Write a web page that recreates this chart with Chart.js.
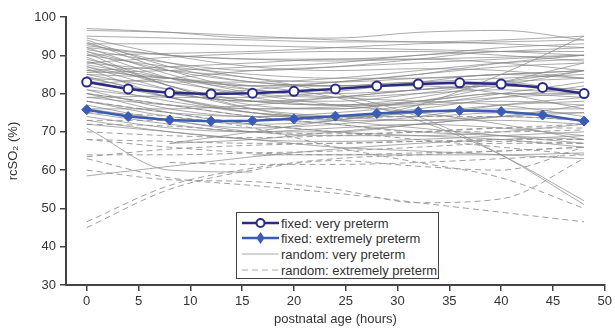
<!DOCTYPE html>
<html>
<head>
<meta charset="utf-8">
<script src="https://cdn.jsdelivr.net/npm/chart.js@4/dist/chart.umd.min.js"></script>
<style>
  body { margin: 0; background: #fff; }
  #wrap { position: relative; width: 615px; height: 329px; }
  #legend {
    position: absolute; left: 236px; top: 212px; width: 201px; height: 65px;
    border: 1.5px solid #444; background: #fff;
    font-family: 'Liberation Sans', Arial, sans-serif; font-size: 13px; color: #333;
  }
  .row { position: absolute; left: 5px; height: 16px; display: flex; align-items: center; white-space: nowrap; }
  .row svg { margin-right: 1px; }
</style>
</head>
<body>
<div id="wrap">
  <canvas id="c" width="615" height="329"></canvas>
  <div id="legend">
    <div class="row" style="top:2px">
      <svg width="38" height="16"><line x1="0" y1="8" x2="37" y2="8" stroke="#2b2a85" stroke-width="2.5"/><circle cx="18.5" cy="8" r="4" fill="#fff" stroke="#2b2a85" stroke-width="2"/></svg>fixed: very preterm</div>
    <div class="row" style="top:17px">
      <svg width="38" height="16"><line x1="0" y1="8" x2="37" y2="8" stroke="#3a5cb4" stroke-width="2.5"/><polygon points="18.5,2 22.5,8 18.5,14 14.5,8" fill="#3a5cb4"/></svg>fixed: extremely preterm</div>
    <div class="row" style="top:33px">
      <svg width="38" height="16"><line x1="0" y1="8" x2="37" y2="8" stroke="#aaa" stroke-width="1"/></svg>random: very preterm</div>
    <div class="row" style="top:49px">
      <svg width="38" height="16"><line x1="0" y1="8" x2="37" y2="8" stroke="#aaa" stroke-width="1" stroke-dasharray="6,4"/></svg>random: extremely preterm</div>
  </div>
</div>
<script>
// ── Data ──
const xTickValues = [0, 5, 10, 15, 20, 25, 30, 35, 40, 45, 50];
const fixedHours = [0, 4, 8, 12, 16, 20, 24, 28, 32, 36, 40, 44, 48];
const fixedVery    = [83.0, 81.2, 80.2, 79.9, 80.1, 80.6, 81.2, 82.0, 82.5, 82.8, 82.5, 81.6, 80.0];
const fixedExtreme = [75.8, 74.0, 73.1, 72.8, 72.9, 73.4, 74.1, 74.8, 75.3, 75.6, 75.3, 74.4, 72.8];

// random-effect curves, sampled at these hours
const hours = [0, 8, 16, 24, 32, 40, 48];

const randomVery = [
  [97, 96, 94.5, 94.5, 96, 96.5, 94],
  [96.5, 96, 95, 94, 93.5, 93, 92],
  [95, 94.5, 94, 93.5, 93.5, 94, 95],
  [94.5, 90, 87, 86, 86.5, 86, 84],
  [94, 87, 83, 82, 83, 83, 80],
  [93.5, 86, 81, 79, 78, 77, 74],
  [93, 88, 84, 83, 84, 85, 86],
  [92.5, 90, 89, 88.5, 89, 89.5, 90],
  [92, 85, 80, 77, 75, 72, 68],
  [91.5, 88, 86, 87, 89, 91, 91],
  [91, 84, 79, 77, 77, 78, 77],
  [90.5, 82, 77, 76, 78, 82, 86],
  [90, 87, 85, 84, 84, 85, 86],
  [89.5, 82, 76, 73, 71, 69, 67],
  [89, 84, 81, 80, 81, 82, 81],
  [88.5, 82, 78, 77, 79, 83, 88],
  [88, 89.5, 90.5, 91, 91, 90, 88.5],
  [87.5, 84, 82, 83, 85, 88, 90],
  [87, 81, 76, 74, 73, 73, 72],
  [86.5, 79, 75, 74, 76, 79, 82],
  [86, 84, 82, 82, 83, 84, 85],
  [85.5, 86, 87, 88, 90, 91, 92],
  [85, 81, 78, 77, 78, 80, 79],
  [84.5, 79, 75, 73, 73, 74, 73],
  [84, 83, 83, 84, 86, 88, 89],
  [83.5, 79, 76, 76, 78, 80, 80],
  [82.5, 84, 86, 87, 88, 89, 90],
  [82, 78, 75, 74, 74, 75, 75],
  [81, 79, 79, 80.5, 83, 85, 84],
  [80, 75, 72, 70, 69, 68, 66],
  [79, 79.5, 81, 83, 85, 87, 88],
  [78, 75, 74, 74, 75, 77, 78],
  [77, 73, 71, 72, 74, 77, 79],
  [76, 76, 77, 79, 81, 83, 84],
  [75, 72, 70, 70, 72, 74, 75],
  [74, 71, 70, 71, 72, 71, 69],
  [71, 60, 59.5, null, null, null, null],
  [58.5, 61, 63.5, 65.5, 67, 68, 69],
  [null, null, 64, 64, 64, 64, 64.5],
  [88, 86, 84, 80, 74, 64, 51],
  [85, 84, 82, 79, 73, 64, 52],
  [78, 74, 72, 73, 77, 85, 95],
  [null, 67, 70, 73, 75, 76, 76],
  [93, 93, 92.5, 92, 91.5, 91, 90],
  [92, 90, 89, 89, 90, 92, 93],
  [90, 90.5, 91, 92, 93, 93.5, 94],
  [86, 87, 88, 89, 89, 88, 86],
  [83, 80, 78, 78, 80, 83, 86],
  [79, 77, 76, 76.5, 77.5, 79, 80],
  [76, 73, 70, 69, 69, 70, 72],
  [73, 70, 68, 67.5, 68, 69, 70],
  [80, 77, 74, 72, 70, 69, 68],
  [72, 70, 68, 66, 65, 64, 63],
  [null, 67, 68, 70, 72, 74, 77],
  [91, 86, 83, 82, 82, 80, 76],
  [87, 83, 80, 79, 80, 81, 80],
  [84, 80, 78, 79, 81, 82, 81],
  [81, 76, 74, 75, 77, 80, 83],
];

const randomExtreme = [
  [73, 73, 73, 73.5, 74, 74, 73],
  [63.5, 65.5, 66.5, 67, 67.5, 67.5, 67],
  [63, 58, 56, 54, 51.5, 49, 46.5],
  [60, 57.5, 57, 55, 51.5, 52.5, 63],
  [46.5, 56, 60.5, 63, 64, 65, 66],
  [45, 55, 60, 62.5, 61, 60, 66],
  [64, 64, 64.5, 65, 66, 67, 67],
  [68, 67.5, 67, 67, 67.5, 68, 68],
  [70, 69, 68.5, 69, 70, 71, 71],
  [72, 71.5, 70, 69.5, 70, 71, 72],
  [null, 62, 61.5, 61.5, 62, 63, 64],
  [78, 75, 72, 70, 68, 66, 64],
  [80, 77, 74, 72, 70, 70, 70.5],
  [68, 66, 64.5, 64, 64.5, 65, 66],
  [75, 74, 71, 66, 62, 58, 50],
];

// ── Helpers ──
const pts = (xs, ys) => ys.map((y, i) => ({ x: xs[i], y }));
const FONT = "'Liberation Sans', Arial, sans-serif";

function randomSet(list, dashed) {
  return list.map(vals => ({
    data: pts(hours, vals),
    borderColor: dashed ? 'rgba(150,150,150,0.9)' : 'rgba(135,135,135,0.7)',
    borderWidth: 1,
    borderDash: dashed ? [6, 4] : [],
    pointRadius: 0,
    cubicInterpolationMode: 'monotone',
    fill: false,
    order: 2,
  }));
}

const datasets = [
  {
    data: pts(fixedHours, fixedVery),
    borderColor: '#2b2a85',
    backgroundColor: '#fff',
    borderWidth: 2.5,
    pointStyle: 'circle',
    pointRadius: 4.5,
    pointBorderWidth: 2,
    pointBackgroundColor: '#fff',
    order: 0,
  },
  {
    data: pts(fixedHours, fixedExtreme),
    borderColor: '#3a5cb4',
    backgroundColor: '#3a5cb4',
    borderWidth: 2.5,
    pointStyle: 'rectRot',
    pointRadius: 5,
    pointBorderWidth: 1,
    pointBackgroundColor: '#3a5cb4',
    order: 1,
  },
  ...randomSet(randomVery, false),
  ...randomSet(randomExtreme, true),
];

// ── Chart ──
new Chart(document.getElementById('c'), {
  type: 'line',
  data: { datasets },
  options: {
    responsive: false,
    animation: false,
    devicePixelRatio: 1,
    layout: { padding: { top: 17, right: 7, left: 0, bottom: 0 } },
    plugins: { legend: { display: false }, tooltip: { enabled: false } },
    scales: {
      x: {
        type: 'linear',
        min: -2, max: 50,
        afterBuildTicks: s => { s.ticks = xTickValues.map(v => ({ value: v })); },
        afterFit: s => { s.height = 44; },
        ticks: { color: '#333', font: { family: FONT, size: 13 }, padding: 3, maxRotation: 0, autoSkip: false },
        grid: { drawOnChartArea: false, drawTicks: true, tickLength: 6, color: '#444', lineWidth: 1.5 },
        border: { color: '#444', width: 2 },
        title: { display: true, text: 'postnatal age (hours)', color: '#333', font: { family: FONT, size: 13 }, padding: { top: 0, bottom: 2 } },
      },
      y: {
        min: 30, max: 100,
        afterFit: s => { s.width = 66; },
        ticks: { stepSize: 10, color: '#333', font: { family: FONT, size: 13 }, padding: 4 },
        grid: { drawOnChartArea: false, drawTicks: true, tickLength: 6, color: '#444', lineWidth: 1.5 },
        border: { color: '#444', width: 2 },
        title: { display: true, text: 'rcSO₂ (%)', color: '#333', font: { family: FONT, size: 13 }, padding: { top: 6, bottom: 0 } },
      },
    },
  },
});
</script>
</body>
</html>
